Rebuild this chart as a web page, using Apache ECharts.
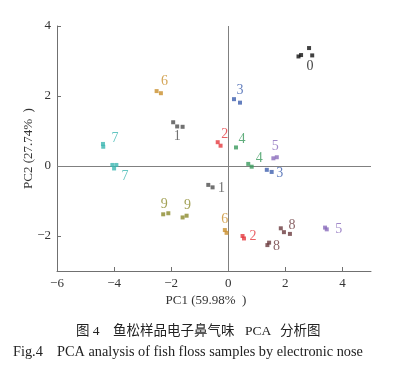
<!DOCTYPE html>
<html>
<head>
<meta charset="utf-8">
<script src="https://cdn.jsdelivr.net/npm/echarts@6/dist/echarts.min.js"></script>
<style>html,body{margin:0;padding:0;background:#fff}#c{width:394px;height:379px}</style>
</head>
<body>
<div id="c"></div>
<script>
// ---- data (PC1, PC2) per sample group ----
const groupNames = ['0','1','2','3','4','5','6','7','8','9'];
const g0 = [[2.46,3.13],[2.55,3.17],[2.83,3.37],[2.94,3.16]];
const g1 = [[-1.93,1.25],[-1.79,1.13],[-1.60,1.12],[-0.70,-0.54],[-0.55,-0.61]];
const g2 = [[-0.37,0.68],[-0.27,0.58],[0.50,-2.00],[0.55,-2.07]];
const g3 = [[0.20,1.91],[0.41,1.81],[1.35,-0.11],[1.52,-0.17]];
const g4 = [[0.27,0.53],[0.70,0.06],[0.82,-0.02]];
const g5 = [[1.58,0.22],[1.70,0.25],[3.39,-1.76],[3.45,-1.81]];
const g6 = [[-2.51,2.14],[-2.36,2.08],[-0.12,-1.83],[-0.06,-1.91]];
const g7 = [[-4.39,0.63],[-4.38,0.55],[-4.06,0.03],[-3.92,0.03],[-4.00,-0.07]];
const g8 = [[1.84,-1.78],[1.95,-1.89],[2.16,-1.94],[1.37,-2.26],[1.43,-2.19]];
const g9 = [[-2.28,-1.38],[-2.10,-1.35],[-1.60,-1.47],[-1.46,-1.42]];
const groups = [g0,g1,g2,g3,g4,g5,g6,g7,g8,g9];
const xTicks = [-6,-4,-2,0,2,4];
const yTicks = [-2,0,2,4];
const xName = 'PC1 (59.98%  )';
const yName = 'PC2 (27.74%  )';
const captionCN = ['图 4', '鱼松样品电子鼻气味', 'PCA', '分析图'];
const captionEN = 'Fig.4    PCA analysis of fish floss samples by electronic nose';

// ---- styling ----
const colors = ['#111111','#4d4d4d','#e53a3f','#3d5fae','#3a9a5c','#8a6cbc','#c98f2c','#3cb7b1','#6b3b3e','#8b8a2c'];
// label anchors: point index within group, pixel offset of label centre
const labelCfg = [
  [{i:2, o:[1,18]}],
  [{i:1, o:[0,10]},{i:4, o:[9,1]}],
  [{i:0, o:[7,-8]},{i:3, o:[9,-2]}],
  [{i:0, o:[6,-9]},{i:3, o:[8,1]}],
  [{i:0, o:[6,-8]},{i:1, o:[11,-6]}],
  [{i:0, o:[2,-12]},{i:3, o:[12,0]}],
  [{i:0, o:[8,-10]},{i:2, o:[0,-11]}],
  [{i:0, o:[12,-6]},{i:4, o:[11,8]}],
  [{i:2, o:[2,-9]},{i:3, o:[9,1]}],
  [{i:1, o:[-4,-9]},{i:3, o:[1,-10]}]
];
const serif = '"Liberation Serif","Times New Roman",serif';
const fmt = v => v < 0 ? '\u2212' + Math.abs(v) : String(v);

const series = groups.map((g, gi) => {
  const data = g.map((p, pi) => {
    const lc = labelCfg[gi].find(l => l.i === pi);
    const item = {value: p};
    if (lc) {
      item.label = {show: true, formatter: groupNames[gi], position: 'inside',
        offset: lc.o, align: 'center', verticalAlign: 'middle',
        color: colors[gi], fontFamily: serif, fontSize: 14};
    }
    return item;
  });
  const s = {
    type: 'scatter', name: groupNames[gi], data: data,
    symbol: 'rect', symbolSize: 4, itemStyle: {color: colors[gi]},
    label: {show: false}, emphasis: {disabled: true}, silent: true, z: 3
  };
  if (gi === 0) {
    s.markLine = {
      silent: true, symbol: 'none', label: {show: false},
      lineStyle: {color: '#808080', width: 1, type: 'solid'},
      data: [{xAxis: 0}, {yAxis: 0}], z: 1
    };
  }
  return s;
});

const cnFont = '13.5px "Liberation Serif","Noto Sans CJK SC",serif';
const chart = echarts.init(document.getElementById('c'), null, {renderer: 'canvas'});
chart.setOption({
  animation: false,
  backgroundColor: '#ffffff',
  grid: {left: 57, right: 23, top: 26, bottom: 108},
  xAxis: {
    type: 'value', min: -6, max: 5,
    name: xName, nameLocation: 'middle', nameGap: 23, nameMoveOverlap: false,
    nameTextStyle: {fontFamily: serif, fontSize: 13, color: '#333', padding: [0, 16, 0, 0]},
    axisLine: {show: true, onZero: false, lineStyle: {color: '#707070', width: 1}},
    axisTick: {show: true, inside: true, length: 4, customValues: xTicks, lineStyle: {color: '#707070'}},
    axisLabel: {customValues: xTicks, formatter: fmt, fontFamily: serif, fontSize: 13, color: '#333', margin: 6},
    splitLine: {show: false}
  },
  yAxis: {
    type: 'value', min: -3, max: 4,
    name: yName, nameLocation: 'middle', nameGap: 22, nameRotate: 90, nameMoveOverlap: false,
    nameTextStyle: {fontFamily: serif, fontSize: 13, color: '#333'},
    axisLine: {show: true, onZero: false, lineStyle: {color: '#707070', width: 1}},
    axisTick: {show: true, inside: true, length: 4, customValues: yTicks, lineStyle: {color: '#707070'}},
    axisLabel: {customValues: yTicks, formatter: fmt, fontFamily: serif, fontSize: 13, color: '#333', margin: 6},
    splitLine: {show: false}
  },
  graphic: [
    {type: 'text', left: 76, top: 325, style: {text: captionCN[0], font: cnFont, fill: '#222'}},
    {type: 'text', left: 113, top: 325, style: {text: captionCN[1], font: cnFont, fill: '#222'}},
    {type: 'text', left: 245, top: 325, style: {text: captionCN[2], font: cnFont, fill: '#222'}},
    {type: 'text', left: 280, top: 325, style: {text: captionCN[3], font: cnFont, fill: '#222'}},
    {type: 'text', left: 13, top: 345, style: {text: captionEN, font: '14.3px "Liberation Serif",serif', fill: '#222'}}
  ],
  series: series
});
</script>
</body>
</html>
